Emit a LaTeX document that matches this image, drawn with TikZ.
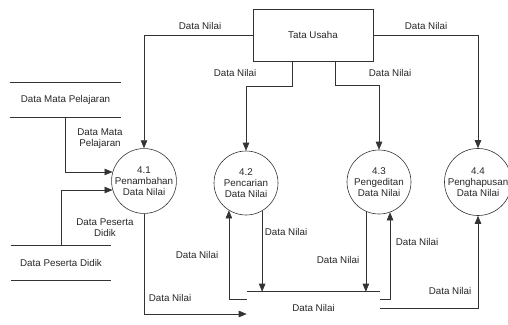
\documentclass[tikz,border=0pt]{standalone}
\usepackage{fontspec}
\setmainfont{Liberation Sans}
\usetikzlibrary{arrows.meta}

\begin{document}
\begin{tikzpicture}[x=1pt, y=-1pt, line width=0.6pt, draw=black!80,
    every node/.style={font=\fontsize{9.8}{11}\selectfont, text=black!85, inner sep=0pt, align=center},
    proc/.style={draw, circle, minimum size=64pt},
    store/.style={minimum height=34pt},
    flow/.style={-{Triangle[length=8pt, width=6.5pt]}}]
    \useasboundingbox (0,0) rectangle (508,324);

    % External entity
    \node[draw, minimum width=120pt, minimum height=52pt] (tu) at (313,35) {Tata Usaha};

    % Processes
    \node[proc] (p41) at (144,181) {4.1\\Penambahan\\Data Nilai};
    \node[proc] (p42) at (246,183) {4.2\\Pencarian\\Data Nilai};
    \node[proc] (p43) at (379,182) {4.3\\Pengeditan\\Data Nilai};
    \node[proc] (p44) at (478,182) {4.4\\Penghapusan\\Data Nilai};

    % Data stores
    \node[store, minimum width=111pt] (dmp) at (65.5,100) {Data Mata Pelajaran};
    \draw (dmp.north west) -- (dmp.north east) (dmp.south west) -- (dmp.south east);
    \node[store, minimum width=100pt] (dpd) at (61,262.5) {Data Peserta Didik};
    \draw (dpd.north west) -- (dpd.north east) (dpd.south west) -- (dpd.south east);
    \node[minimum width=133pt, minimum height=32pt] (dn) at (313.5,308) {Data Nilai};
    \draw (dn.north west) -- (dn.north east);

    % Flows from Tata Usaha
    \draw[flow] (tu.west) -| (p41.north);
    \node at (200,26) {Data Nilai};
    \draw[flow] ([xshift=-21pt]tu.south) -- ++(0,25) -| (p42.north);
    \node at (235,73) {Data Nilai};
    \draw[flow] ([xshift=22pt]tu.south) -- ++(0,24) -| (p43.north);
    \node at (390,73) {Data Nilai};
    \draw[flow] (tu.east) -| (p44.north);
    \node at (426,26) {Data Nilai};

    % Flows from data stores into 4.1
    \draw[flow] (dmp.south) |- (p41.164);
    \node at (100,139) {Data Mata\\Pelajaran};
    \draw[flow] (dpd.north) |- (p41.196);
    \node at (105,228) {Data Peserta\\Didik};

    % Flows to and from Data Nilai
    \draw[flow] (p41.south) |- ([yshift=-6pt]dn.west);
    \node at (170,298) {Data Nilai};
    \draw[flow] ([yshift=9pt]dn.west) -| (p42.-122);
    \node at (197,255) {Data Nilai};
    \draw[flow] (p42.-60) -- (p42.-60 |- dn.north);
    \node at (286,232) {Data Nilai};
    \draw[flow] (p43.-114) -- (p43.-114 |- dn.north);
    \node at (338,260) {Data Nilai};
    \draw[flow] ([yshift=9pt]dn.east) -| (p43.-70);
    \node at (417,242) {Data Nilai};
    \draw[flow] (dn.east) -| (p44.south);
    \node at (450,291) {Data Nilai};
\end{tikzpicture}
\end{document}
